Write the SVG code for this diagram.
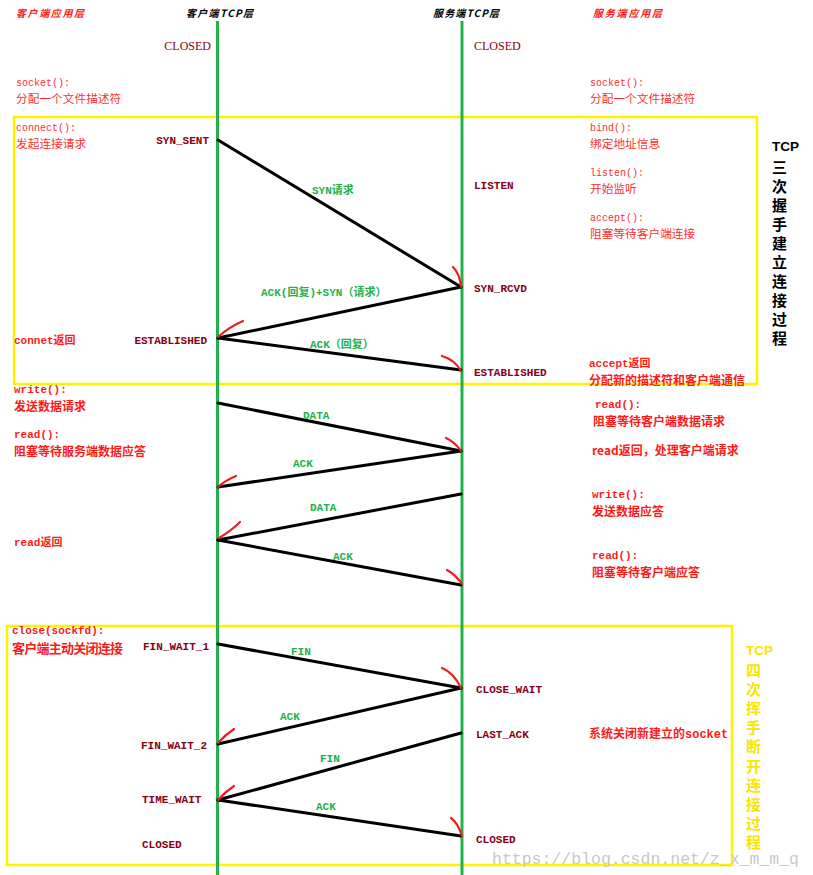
<svg xmlns="http://www.w3.org/2000/svg" width="813" height="875" viewBox="0 0 813 875">
<defs>
<style>
.bg{fill:#ffffff}
.life{stroke:#22b14c;stroke-width:3;fill:none}
.box{stroke:#fff200;stroke-width:2.5;fill:none}
.msg{stroke:#000;stroke-width:3;fill:none;stroke-linecap:round}
.tick{stroke:#ed1c24;stroke-width:2.2;fill:none;stroke-linecap:round}
.hdr{font-family:"Noto Sans CJK SC",serif;font-size:10px;font-weight:bold;font-style:italic}
.hdrR{fill:#ff2020}
.hdrK{fill:#000}
.st{font-family:"Liberation Mono","Noto Sans CJK SC",monospace;font-size:11px;font-weight:bold;fill:#880015}
.closed{font-family:"Liberation Serif",serif;font-size:12px;fill:#880015}
.app{font-family:"Liberation Mono","Noto Sans CJK SC",monospace;font-size:10px;fill:#ff3030}
.appc{font-family:"Noto Sans CJK SC",sans-serif;font-size:11.7px;fill:#ff3030}
.appb{font-family:"Liberation Mono","Noto Sans CJK SC",monospace;font-size:11px;font-weight:bold;fill:#ff1a1a}
.appbc{font-family:"Noto Sans CJK SC",sans-serif;font-size:12px;font-weight:bold;fill:#ff1a1a}
.lbl{font-family:"Liberation Mono","Noto Sans CJK SC",monospace;font-size:11px;font-weight:bold;fill:#22b14c}
.vt{font-family:"Noto Sans CJK SC",sans-serif;font-size:15px;font-weight:bold}
.vtcp{font-family:"Liberation Sans",sans-serif;font-size:13.5px;font-weight:bold}
.wm{font-family:"Liberation Mono",monospace;font-size:16.5px;fill:#c8c8c8}
</style>
</defs>
<rect class="bg" x="0" y="0" width="813" height="875"/>

<g id="headers">
<text class="hdr hdrR" x="16" y="17" textLength="68" lengthAdjust="spacing">客户端应用层</text>
<text class="hdr hdrK" x="186" y="17" textLength="67" lengthAdjust="spacing">客户端TCP层</text>
<text class="hdr hdrK" x="433" y="17" textLength="66" lengthAdjust="spacing">服务端TCP层</text>
<text class="hdr hdrR" x="593" y="17" textLength="69" lengthAdjust="spacing">服务端应用层</text>
</g>

<g id="boxes">
<rect id="handshake-box" class="box" x="14" y="117" width="743" height="267"/>
<rect id="teardown-box" class="box" x="7" y="626" width="725" height="239"/>
</g>

<g id="lifelines">
<line id="client-tcp" class="life" x1="217.5" y1="21" x2="217.5" y2="875"/>
<line id="server-tcp" class="life" x1="462" y1="21" x2="462" y2="875"/>
</g>

<g id="connectors">
<line class="msg" x1="218" y1="140" x2="461" y2="287"/>
<line class="msg" x1="461" y1="287" x2="218" y2="338"/>
<line class="msg" x1="218" y1="338" x2="461" y2="370"/>
<line class="msg" x1="218" y1="403" x2="461" y2="451"/>
<line class="msg" x1="461" y1="451" x2="218" y2="487"/>
<line class="msg" x1="461" y1="494" x2="218" y2="540"/>
<line class="msg" x1="218" y1="540" x2="461" y2="585"/>
<line class="msg" x1="218" y1="644" x2="461" y2="688"/>
<line class="msg" x1="461" y1="688" x2="218" y2="744"/>
<line class="msg" x1="461" y1="733" x2="218" y2="800"/>
<line class="msg" x1="218" y1="800" x2="461" y2="836"/>
<path class="tick" d="M218,337 Q229,327 243,321"/>
<path class="tick" d="M453,267 Q460,274 461,287"/>
<path class="tick" d="M442,356 Q455,360 461,371"/>
<path class="tick" d="M218,487 Q226,480 236,476"/>
<path class="tick" d="M219,538 Q231,531 240,522"/>
<path class="tick" d="M446,438 Q455,442 461,451"/>
<path class="tick" d="M447,570 Q456,575 462,584"/>
<path class="tick" d="M442,668 Q454,673 461,688"/>
<path class="tick" d="M218,743 Q225,735 234,729"/>
<path class="tick" d="M218,800 Q225,792 234,786"/>
<path class="tick" d="M451,818 Q458,823 462,836"/>
<text class="lbl" x="312" y="194">SYN请求</text>
<text class="lbl" x="261" y="296">ACK(回复)+SYN（请求）</text>
<text class="lbl" x="310" y="348">ACK（回复）</text>
<text class="lbl" x="303" y="419">DATA</text>
<text class="lbl" x="293" y="467">ACK</text>
<text class="lbl" x="310" y="511">DATA</text>
<text class="lbl" x="333" y="560">ACK</text>
<text class="lbl" x="291" y="655">FIN</text>
<text class="lbl" x="280" y="720">ACK</text>
<text class="lbl" x="320" y="762">FIN</text>
<text class="lbl" x="316" y="810">ACK</text>
</g>

<g id="client-states">
<text class="closed" x="211" y="50" text-anchor="end">CLOSED</text>
<text class="st" x="209" y="144" text-anchor="end">SYN_SENT</text>
<text class="st" x="207" y="344" text-anchor="end">ESTABLISHED</text>
<text class="st" x="209" y="650" text-anchor="end">FIN_WAIT_1</text>
<text class="st" x="207" y="749" text-anchor="end">FIN_WAIT_2</text>
<text class="st" x="142" y="803">TIME_WAIT</text>
<text class="st" x="142" y="848">CLOSED</text>
</g>

<g id="server-states">
<text class="closed" x="474" y="50">CLOSED</text>
<text class="st" x="474" y="189">LISTEN</text>
<text class="st" x="474" y="292">SYN_RCVD</text>
<text class="st" x="474" y="376">ESTABLISHED</text>
<text class="st" x="476" y="693">CLOSE_WAIT</text>
<text class="st" x="476" y="738">LAST_ACK</text>
<text class="st" x="476" y="843">CLOSED</text>
</g>

<g id="client-app">
<text class="app" x="16" y="86">socket():</text>
<text class="appc" x="16" y="103">分配一个文件描述符</text>
<text class="app" x="16" y="131">connect():</text>
<text class="appc" x="16" y="148">发起连接请求</text>
<text class="appb" x="14" y="344">connet<tspan font-family="Noto Sans CJK SC">返回</tspan></text>
<text class="appb" x="14" y="393">write():</text>
<text class="appbc" x="14" y="411">发送数据请求</text>
<text class="appb" x="14" y="438">read():</text>
<text class="appbc" x="14" y="456">阻塞等待服务端数据应答</text>
<text class="appb" x="14" y="546">read<tspan font-family="Noto Sans CJK SC">返回</tspan></text>
<text class="appb" x="12" y="634">close(sockfd):</text>
<text class="appbc" x="12" y="653" textLength="111" lengthAdjust="spacing" style="font-size:13px">客户端主动关闭连接</text>
</g>

<g id="server-app">
<text class="app" x="590" y="86">socket():</text>
<text class="appc" x="590" y="103">分配一个文件描述符</text>
<text class="app" x="590" y="131">bind():</text>
<text class="appc" x="590" y="148">绑定地址信息</text>
<text class="app" x="590" y="176">listen():</text>
<text class="appc" x="590" y="193">开始监听</text>
<text class="app" x="590" y="221">accept():</text>
<text class="appc" x="590" y="238">阻塞等待客户端连接</text>
<text class="appb" x="589" y="367">accept<tspan font-family="Noto Sans CJK SC">返回</tspan></text>
<text class="appbc" x="589" y="385">分配新的描述符和客户端通信</text>
<text class="appb" x="595" y="408">read():</text>
<text class="appbc" x="593" y="426">阻塞等待客户端数据请求</text>
<text class="appbc" x="592" y="455">read返回，处理客户端请求</text>
<text class="appb" x="592" y="498">write():</text>
<text class="appbc" x="592" y="516">发送数据应答</text>
<text class="appb" x="592" y="559">read():</text>
<text class="appbc" x="592" y="577">阻塞等待客户端应答</text>
<text class="appbc" x="589" y="738">系统关闭新建立的<tspan font-family="Liberation Mono">socket</tspan></text>
</g>

<g id="handshake-title" fill="#000">
<text class="vtcp" x="772" y="151">TCP</text>
<text class="vt" x="772" y="173">三<tspan x="772" dy="19">次</tspan><tspan x="772" dy="19">握</tspan><tspan x="772" dy="19">手</tspan><tspan x="772" dy="19">建</tspan><tspan x="772" dy="19">立</tspan><tspan x="772" dy="19">连</tspan><tspan x="772" dy="19">接</tspan><tspan x="772" dy="19">过</tspan><tspan x="772" dy="19">程</tspan></text>
</g>

<g id="teardown-title" fill="#f7e600">
<text class="vtcp" x="746" y="655">TCP</text>
<text class="vt" x="746" y="676">四<tspan x="746" dy="19.1">次</tspan><tspan x="746" dy="19.1">挥</tspan><tspan x="746" dy="19.1">手</tspan><tspan x="746" dy="19.1">断</tspan><tspan x="746" dy="19.1">开</tspan><tspan x="746" dy="19.1">连</tspan><tspan x="746" dy="19.1">接</tspan><tspan x="746" dy="19.1">过</tspan><tspan x="746" dy="19.1">程</tspan></text>
</g>

<text class="wm" x="492" y="864">https://blog.csdn.net/z_x_m_m_q</text>
</svg>
